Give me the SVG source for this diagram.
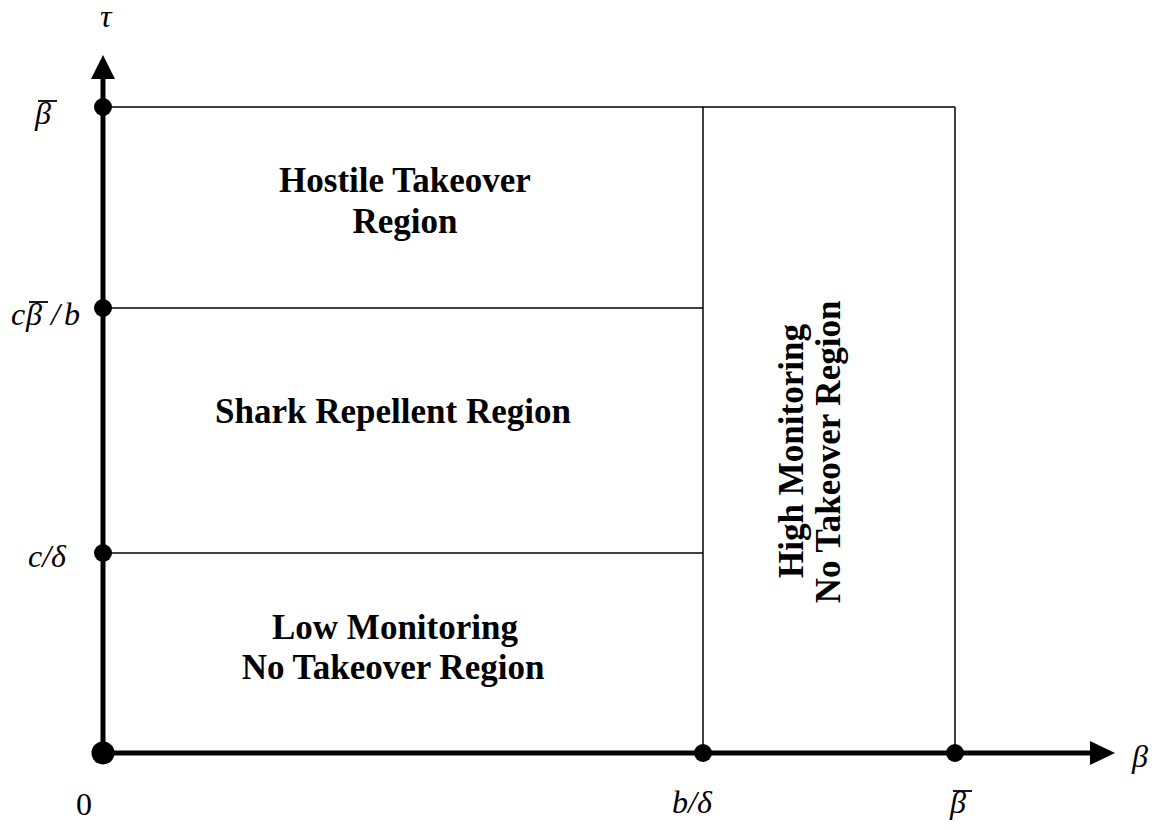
<svg xmlns="http://www.w3.org/2000/svg" width="1163" height="830" viewBox="0 0 1163 830">
<style>
.ax{stroke:#000;stroke-width:5;fill:none}
.ln{stroke:#000;stroke-width:1.5;fill:none}
.lab{font-family:"Liberation Serif",serif;font-style:italic;font-size:32px;fill:#000}
.num{font-family:"Liberation Serif",serif;font-size:32px;fill:#000}
.reg{font-family:"Liberation Serif",serif;font-weight:bold;font-size:35px;fill:#000;text-anchor:middle}
.ol{stroke:#000;stroke-width:1.8}
</style>
<rect width="1163" height="830" fill="#fff"/>
<g id="regions">
<line class="ln" x1="103" y1="107" x2="955" y2="107"/>
<line class="ln" x1="103" y1="308" x2="703" y2="308"/>
<line class="ln" x1="103" y1="553" x2="703" y2="553"/>
<line class="ln" x1="703" y1="107" x2="703" y2="753"/>
<line class="ln" x1="955" y1="107" x2="955" y2="753"/>
</g>
<g id="axes">
<line class="ax" x1="103" y1="756" x2="103" y2="76"/>
<polygon points="103,55 91,79 115,79" fill="#000"/>
<line class="ax" x1="100" y1="753" x2="1092" y2="753"/>
<polygon points="1115,753 1090,741 1090,765" fill="#000"/>
</g>
<g id="dots" fill="#000">
<circle cx="103" cy="107" r="9"/>
<circle cx="103" cy="308" r="9"/>
<circle cx="103" cy="553" r="9"/>
<circle cx="103" cy="753" r="11.5"/>
<circle cx="703" cy="753" r="9"/>
<circle cx="955" cy="753" r="9"/>
</g>
<g id="axis-labels">
<text class="lab" x="100" y="27">τ</text>
<text class="lab" x="35" y="124">β</text>
<line class="ol" x1="38" y1="101" x2="57" y2="101"/>
<text class="lab" x="11" y="325">c</text>
<text class="lab" x="26" y="325">β</text>
<line class="ol" x1="29" y1="302" x2="48" y2="302"/>
<text class="lab" x="51" y="325">/</text>
<text class="lab" x="64" y="325">b</text>
<text class="lab" x="28" y="567">c/δ</text>
<text class="num" x="76" y="815">0</text>
<text class="lab" x="672" y="813">b/δ</text>
<text class="lab" x="950" y="813">β</text>
<line class="ol" x1="953" y1="791" x2="972" y2="791"/>
<text class="lab" x="1132" y="767">β</text>
</g>
<g id="hostile"><text class="reg" x="405" y="192">Hostile Takeover</text><text class="reg" x="405" y="233">Region</text></g>
<g id="shark"><text class="reg" x="393" y="423">Shark Repellent Region</text></g>
<g id="low"><text class="reg" x="395" y="639">Low Monitoring</text><text class="reg" x="393" y="679">No Takeover Region</text></g>
<g id="high" transform="translate(803,451) rotate(-90)"><text class="reg" x="0" y="0">High Monitoring</text><text class="reg" x="-1" y="37">No Takeover Region</text></g>
</svg>
